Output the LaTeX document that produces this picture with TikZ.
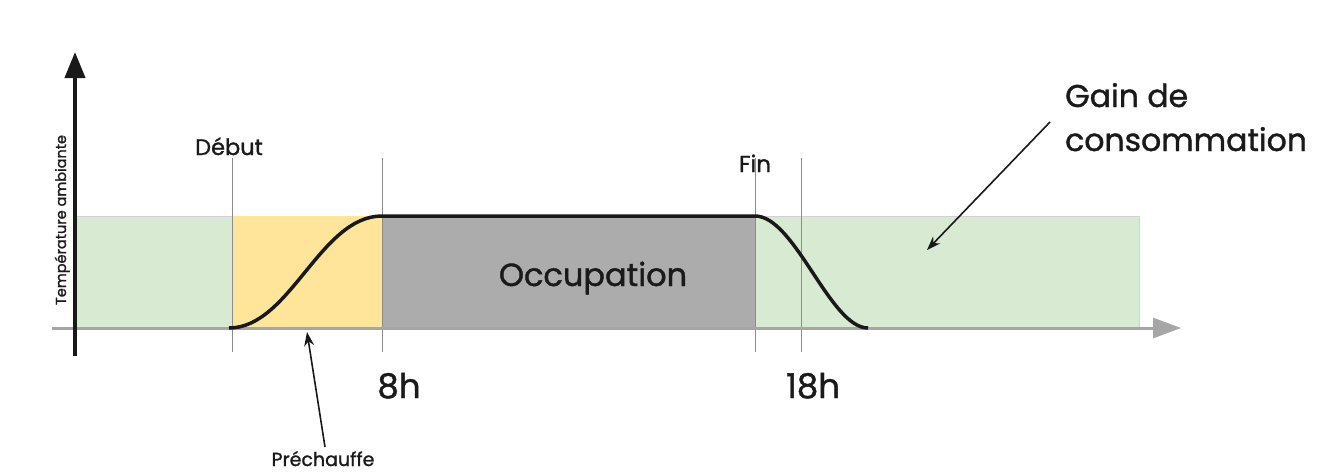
\documentclass[tikz,border=0pt]{standalone}
\usepackage{fontspec}
\setmainfont{Poppins}[FakeBold=1.2]
\usetikzlibrary{arrows.meta}
\definecolor{gainc}{HTML}{D9EAD3}
\definecolor{prec}{HTML}{FFE599}
\definecolor{occc}{HTML}{ACACAC}
\definecolor{axg}{HTML}{A6A6A6}
\definecolor{txt}{HTML}{1A1A1A}
\begin{document}
\begin{tikzpicture}[x=1pt,y=-1pt,
  vline/.style={draw=black!45,line width=0.8pt},
  curve/.style={draw=black!90,line width=3.5pt},
  lbl/.style={text=txt,inner sep=0pt,anchor=base},
  callout/.style={draw=black!90,line width=1.6pt,-{Stealth[length=14pt,width=10pt]}}]
\useasboundingbox (0,0) rectangle (1321,472);
% zones
\fill[gainc] (77,216) rectangle (1139,328);
\draw[black!18,line width=1pt] (77,216) -- (1139,216) -- (1139,328);
\fill[prec] (232,216) rectangle (382,328);
\fill[occc] (382,216) rectangle (755,328);
% vertical markers
\foreach \x in {232,382,755,801} \draw[vline] (\x,158) -- (\x,352);
% x axis
\draw[axg,line width=3pt,-{Triangle[length=28pt,width=20pt]}] (52,328) -- (1181,328);
% y axis
\draw[black!90,line width=4pt,-{Triangle[length=26pt,width=20pt]}] (75,356) -- (75,52);
% curve
\coordinate (c0) at (229,328);
\coordinate (c1) at (382,216);
\coordinate (c2) at (755,216);
\coordinate (c3) at (868,328);
\draw[curve] (c0) .. controls (290,328) and (320,216) .. (c1) -- (c2) .. controls (795,216) and (830,328) .. (c3);
% labels
\node[lbl,font=\fontsize{22.5}{26}\selectfont] (debut) at (229,155) {Début};
\node[lbl,font=\fontsize{23}{26}\selectfont] (fin) at (755,172) {Fin};
\node[lbl,font=\fontsize{32}{38}\selectfont] (occ) at (593,286) {Occupation};
\node[lbl,font=\fontsize{34}{40}\selectfont] (h8) at (399,398) {8h};
\node[lbl,font=\fontsize{34}{40}\selectfont] (h18) at (813,398) {18h};
\node[lbl,font=\fontsize{19}{22}\selectfont] (pre) at (323,466) {Préchauffe};
\node[lbl,font=\fontsize{14.5}{17}\selectfont,rotate=90] (temp) at (66,220) {Température ambiante};
\node[lbl,anchor=base west,font=\fontsize{31.5}{40}\selectfont] (gain1) at (1065,107) {Gain de};
\node[lbl,anchor=base west,font=\fontsize{31.5}{40}\selectfont] (gain2) at (1065,151) {consommation};
% callouts
\coordinate (preStart) at (325,447);
\coordinate (preTip) at (307,332);
\coordinate (gainStart) at (1050,122);
\coordinate (gainTip) at (927,250);
\draw[callout] (preStart) -- (preTip);
\draw[callout] (gainStart) -- (gainTip);
\end{tikzpicture}
\end{document}
